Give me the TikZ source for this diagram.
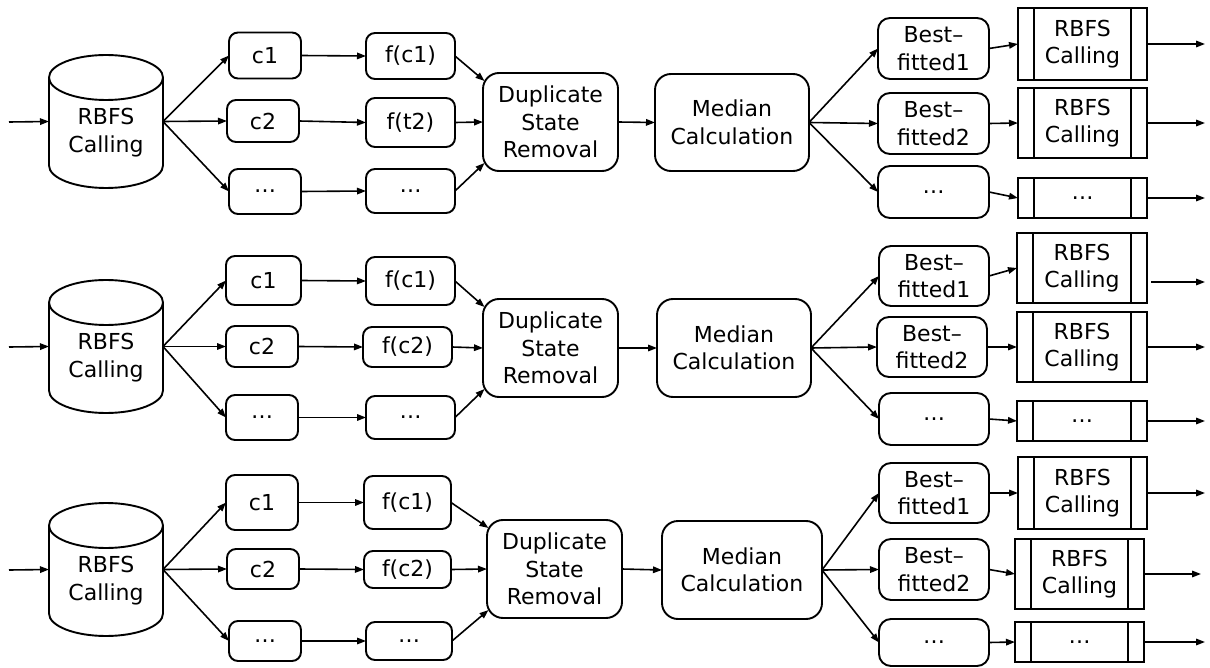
\documentclass[tikz,border=0pt]{standalone}
\usepackage{fontspec}
\setmainfont{DejaVu Sans}
\usetikzlibrary{arrows.meta}

% outline of a database drum around an (invisible) node
\newcommand\cylout[1]{%
  \draw[line width=1.9pt] ([yshift=-22.5pt]#1.north west) -- ([yshift=22.5pt]#1.south west)
    arc[start angle=180,end angle=360,x radius=57pt,y radius=22.5pt]
    -- ([yshift=-22.5pt]#1.north east)
    arc[start angle=0,end angle=360,x radius=57pt,y radius=22.5pt];}

\begin{document}
\begin{tikzpicture}[x=1pt,y=-1pt,
  line width=1.6pt,
  sz/.style 2 args={minimum width=#1pt,minimum height=#2pt},
  base/.style={inner sep=0pt,outer sep=0pt,align=center,
    font=\fontsize{22}{27.5}\selectfont},
  rbox/.style={base,draw,line width=1.9pt,rounded corners=9pt},
  fitbox/.style={base,draw,line width=1.9pt,rounded corners=12pt},
  bbox/.style={base,draw,line width=1.9pt,rounded corners=16pt},
  procbox/.style={base,draw,line width=1.9pt,path picture={
    \draw[line width=1.9pt]
      ([xshift=16pt]path picture bounding box.north west) --
      ([xshift=16pt]path picture bounding box.south west)
      ([xshift=-16pt]path picture bounding box.north east) --
      ([xshift=-16pt]path picture bounding box.south east);}},
  drum/.style={base},
  arr/.style={-{Triangle[length=9pt,width=6.5pt]}},
]
\useasboundingbox (0,0) rectangle (1210,668);

% ---------------- first pipeline ----------------
\coordinate (in1) at (9,122);
\node[drum,sz={114}{133}] (cyl1) at (106,121.5) {};
\cylout{cyl1}
\node[base] (cyl1t) at ([yshift=-11pt]cyl1.center) {RBFS\\Calling};
\node[rbox,sz={72}{46}] (c11) at (265,55.5) {c1};
\node[rbox,sz={72}{42}] (c12) at (263,121) {c2};
\node[rbox,sz={72}{45}] (c1d) at (265,191.5) {…};
\node[rbox,sz={89}{46}] (f11) at (410.5,56) {f(c1)};
\node[rbox,sz={89}{49}] (f12) at (410.5,122.5) {f(t2)};
\node[rbox,sz={89}{44}] (f1d) at (410.5,191) {…};
\node[bbox,sz={135}{98}] (dup1) at (550.5,122) {Duplicate\\State\\Removal};
\node[bbox,sz={154}{97}] (med1) at (732,122.5) {Median\\Calculation};
\node[fitbox,sz={111}{61}] (bf11) at (933.5,48.5) {Best–\\fitted1};
\node[fitbox,sz={111}{61}] (bf12) at (933.5,123.5) {Best–\\fitted2};
\node[fitbox,sz={111}{52}] (bf1d) at (933.5,192) {…};
\node[procbox,sz={129}{72}] (rb11) at (1082.5,44) {RBFS\\Calling};
\node[procbox,sz={129}{70}] (rb12) at (1082.5,123) {RBFS\\Calling};
\node[procbox,sz={129}{40}] (rb1d) at (1082.5,198) {…};
\coordinate (o11) at (1205,44);
\coordinate (o12) at (1205,123);
\coordinate (o1d) at (1205,198);

% ---------------- second pipeline ----------------
\coordinate (in2) at (9,347);
\node[drum,sz={114}{133}] (cyl2) at (106,346.5) {};
\cylout{cyl2}
\node[base] (cyl2t) at ([yshift=-11pt]cyl2.center) {RBFS\\Calling};
\node[rbox,sz={75}{49}] (c21) at (263.5,280.5) {c1};
\node[rbox,sz={72}{41}] (c22) at (262,346.5) {c2};
\node[rbox,sz={72}{45}] (c2d) at (262,417.5) {…};
\node[rbox,sz={89}{48}] (f21) at (410.5,281) {f(c1)};
\node[rbox,sz={89}{40}] (f22) at (407.5,347) {f(c2)};
\node[rbox,sz={89}{43}] (f2d) at (410.5,417.5) {…};
\node[bbox,sz={135}{98}] (dup2) at (550.5,348) {Duplicate\\State\\Removal};
\node[bbox,sz={154}{98}] (med2) at (734,348) {Median\\Calculation};
\node[fitbox,sz={110}{60}] (bf21) at (934,276) {Best–\\fitted1};
\node[fitbox,sz={110}{60}] (bf22) at (932,347) {Best–\\fitted2};
\node[fitbox,sz={110}{52}] (bf2d) at (934,419) {…};
\node[procbox,sz={130}{70}] (rb21) at (1082,268) {RBFS\\Calling};
\node[procbox,sz={130}{70}] (rb22) at (1082,347) {RBFS\\Calling};
\node[procbox,sz={130}{40}] (rb2d) at (1082,421) {…};
\coordinate (o21) at (1205,282);
\coordinate (o22) at (1205,347);
\coordinate (o2d) at (1205,421);

% ---------------- third pipeline ----------------
\coordinate (in3) at (9,570);
\node[drum,sz={114}{133}] (cyl3) at (106,569.5) {};
\cylout{cyl3}
\node[base] (cyl3t) at ([yshift=-11pt]cyl3.center) {RBFS\\Calling};
\node[rbox,sz={72}{55}] (c31) at (262,502.5) {c1};
\node[rbox,sz={72}{40}] (c32) at (263,569) {c2};
\node[rbox,sz={72}{40}] (c3d) at (265,641) {…};
\node[rbox,sz={87}{53}] (f31) at (407.5,502.5) {f(c1)};
\node[rbox,sz={87}{37}] (f32) at (407.5,569.5) {f(c2)};
\node[rbox,sz={86}{38}] (f3d) at (409,641) {…};
\node[bbox,sz={135}{98}] (dup3) at (554.5,569) {Duplicate\\State\\Removal};
\node[bbox,sz={160}{98}] (med3) at (742,570) {Median\\Calculation};
\node[fitbox,sz={110}{60}] (bf31) at (934,493) {Best–\\fitted1};
\node[fitbox,sz={110}{61}] (bf32) at (934,569.5) {Best–\\fitted2};
\node[fitbox,sz={110}{47}] (bf3d) at (934,642.5) {…};
\node[procbox,sz={129}{72}] (rb31) at (1082.5,493) {RBFS\\Calling};
\node[procbox,sz={129}{70}] (rb32) at (1079.5,574) {RBFS\\Calling};
\node[procbox,sz={129}{40}] (rb3d) at (1079.5,642) {…};
\coordinate (o31) at (1205,493);
\coordinate (o32) at (1201,574);
\coordinate (o3d) at (1205,642);

% ---------------- connectors ----------------
\foreach \r in {1,2,3}{
  \draw[arr] (in\r) -- (cyl\r.west);
  \foreach \k in {1,2,d}{
    \draw[arr] (cyl\r.east) -- (c\r\k.west);
    \draw[arr] (c\r\k.east) -- (f\r\k.west);
    \draw[arr] (med\r.east) -- (bf\r\k.west);
    \draw[arr] (bf\r\k.east) -- (rb\r\k.west);
  }
  \draw[arr] (f\r1.east) -- ([xshift=1.5pt,yshift=-8pt]dup\r.north west);
  \draw[arr] (f\r2.east) -- (dup\r.west);
  \draw[arr] (f\r d.east) -- ([xshift=1.5pt,yshift=8pt]dup\r.south west);
  \draw[arr] (dup\r.east) -- (med\r.west);
  \draw[arr] (rb\r2.east) -- (o\r2);
  \draw[arr] (rb\r d.east) -- (o\r d);
}
\draw[arr] (rb11.east) -- (o11);
\draw[arr] ([xshift=4pt,yshift=-14pt]rb21.east) -- (o21);
\draw[arr] (rb31.east) -- (o31);
\end{tikzpicture}
\end{document}
